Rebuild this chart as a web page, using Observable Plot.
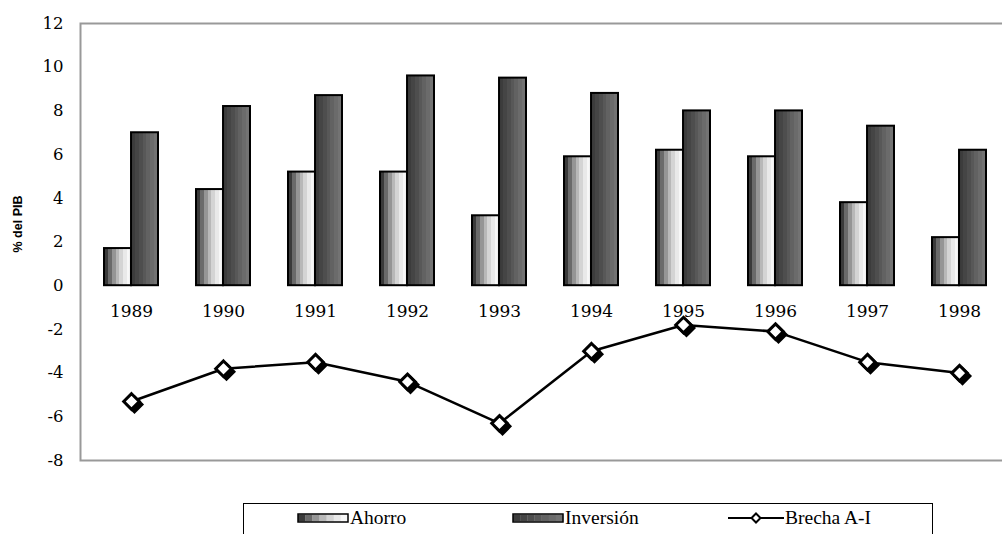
<!DOCTYPE html>
<html><head><meta charset="utf-8">
<script src="https://cdn.jsdelivr.net/npm/d3@7"></script>
<script src="https://cdn.jsdelivr.net/npm/@observablehq/plot@0.6"></script>
<style>
body{margin:0;background:#fff;width:1002px;height:534px;overflow:hidden;position:relative;}
#chart{position:absolute;left:0;top:0;width:1012px;}
#chart svg{max-width:none !important;}
#ylabel{position:absolute;left:18px;top:224px;transform:translate(-50%,-50%) rotate(-90deg);font:bold 12.5px "Liberation Sans",Arial,sans-serif;white-space:nowrap;color:#000;}
#legend{position:absolute;left:243px;top:503px;width:690px;height:40px;border:1px solid #000;box-sizing:border-box;background:#fff;}
.li{position:absolute;top:3px;display:flex;align-items:center;font:19.5px "Liberation Serif","Times New Roman",serif;color:#000;}
.li svg{display:block;}
</style></head>
<body>
<div id="chart"></div>
<div id="ylabel">% del PIB</div>
<div id="legend"></div>
<script>
const years = ["1989","1990","1991","1992","1993","1994","1995","1996","1997","1998"];
const ahorro = [1.7, 4.4, 5.2, 5.2, 3.2, 5.9, 6.2, 5.9, 3.8, 2.2];
const inversion = [7.0, 8.2, 8.7, 9.6, 9.5, 8.8, 8.0, 8.0, 7.3, 6.2];
const brecha = [-5.3, -3.8, -3.5, -4.4, -6.3, -3.0, -1.8, -2.1, -3.5, -4.0];
const yTicks = [12, 10, 8, 6, 4, 2, 0, -2, -4, -6, -8];
const seriesNames = ["Ahorro", "Inversión", "Brecha A-I"];

const barsA = years.map((y, i) => ({year: y, value: ahorro[i]}));
const barsI = years.map((y, i) => ({year: y, value: inversion[i]}));
const gap = years.map((y, i) => ({year: y, value: brecha[i]}));

const W = 1011, H = 480, mL = 80, mR = 2, mT = 23, mB = 20;
const pInner = 0.418, pOuter = pInner / 2;
const step = (W - mL - mR) / years.length;
const bw = step * (1 - pInner);
const half = bw / 2;

const stopsA = ["#3a3a3a","#6a6a6a","#959595","#b8b8b8","#d4d4d4","#e9e9e9","#f7f7f7"];
const stopsI = ["#3c3c3c","#454545","#4e4e4e","#585858","#626262","#6b6b6b","#737373"];

function gradDefs() {
  const defs = d3.create("svg:defs");
  for (const [id, stops] of [["gA", stopsA], ["gI", stopsI]]) {
    const g = defs.append("linearGradient").attr("id", id).attr("x1", 0).attr("x2", 1).attr("y1", 0).attr("y2", 0);
    const n = stops.length;
    stops.forEach((c, k) => {
      g.append("stop").attr("offset", k / n).attr("stop-color", c);
      g.append("stop").attr("offset", (k + 1) / n).attr("stop-color", c);
    });
  }
  return defs.node();
}

const plot = Plot.plot({
  width: W, height: H,
  marginLeft: mL, marginRight: mR, marginTop: mT, marginBottom: mB,
  style: {fontFamily: "'DejaVu Serif', serif", fontSize: "16px", color: "#000", background: "#fff", maxWidth: "none"},
  x: {type: "band", domain: years, paddingInner: pInner, paddingOuter: pOuter, axis: null},
  y: {domain: [-8, 12], ticks: yTicks, tickFormat: d => String(d)},
  marks: [
    gradDefs,
    Plot.axisY({ticks: yTicks, tickSize: 0, tickPadding: 17, tickFormat: d => String(d), label: null, fontSize: 16.5}),
    Plot.frame({stroke: "#999", strokeWidth: 2}),
    Plot.barY(barsA, {x: "year", y: "value", fill: "url(#gA)", stroke: "#000", strokeWidth: 2, insetRight: half}),
    Plot.barY(barsI, {x: "year", y: "value", fill: "url(#gI)", stroke: "#000", strokeWidth: 2, insetLeft: half}),
    Plot.text(years, {x: d => d, y: () => 0, dy: 26, text: d => d, fontSize: 17}),
    Plot.line(gap, {x: "year", y: "value", stroke: "#000", strokeWidth: 2.5}),
    Plot.dot(gap, {x: "year", y: "value", symbol: "diamond2", r: 7, fill: "#000", stroke: "#000", strokeWidth: 2.5, dx: 3, dy: 3}),
    Plot.dot(gap, {x: "year", y: "value", symbol: "diamond2", r: 7, fill: "#fff", stroke: "#000", strokeWidth: 3})
  ]
});
document.getElementById("chart").appendChild(plot);

// Legend
const legend = document.getElementById("legend");
const swatchGrad = (stops) => {
  const n = stops.length;
  const w = 50 / n;
  return `<svg width="52" height="10">` +
    stops.map((c, k) => `<rect x="${1 + k * w}" y="1.5" width="${w + 0.3}" height="7" fill="${c}"/>`).join("") +
    `<rect x="1" y="1" width="50" height="8" fill="none" stroke="#000" stroke-width="1.5"/></svg>`;
};
const swatchLine = `<svg width="56" height="16"><line x1="0" y1="8" x2="56" y2="8" stroke="#000" stroke-width="2"/>` +
  `<path d="M28,3.5 L32.5,8 L28,12.5 L23.5,8 Z" fill="#fff" stroke="#000" stroke-width="2"/></svg>`;
const items = [
  {left: 53, sw: swatchGrad(stopsA), name: seriesNames[0]},
  {left: 268, sw: swatchGrad(stopsI), name: seriesNames[1]},
  {left: 484, sw: swatchLine, name: seriesNames[2]}
];
for (const it of items) {
  const d = document.createElement("div");
  d.className = "li";
  d.style.left = it.left + "px";
  d.innerHTML = it.sw + `<span style="margin-left:1px">${it.name}</span>`;
  legend.appendChild(d);
}
</script>
</body></html>
